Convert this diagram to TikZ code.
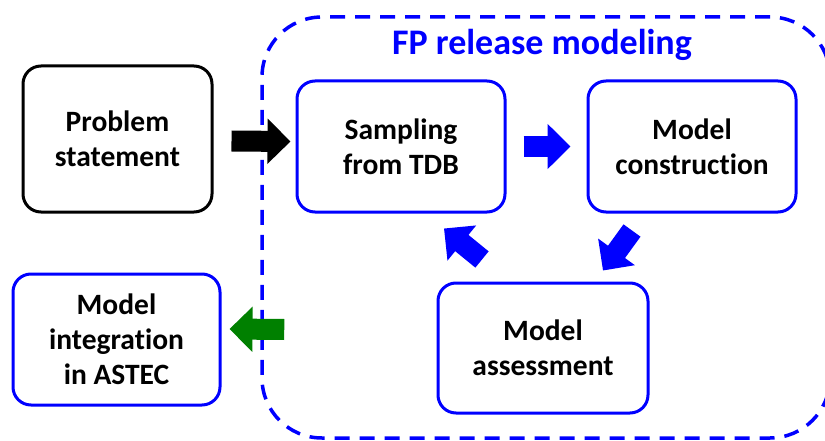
\documentclass[tikz,border=0pt]{standalone}
\usepackage{fontspec}
\setmainfont{Carlito}[Ligatures={TeX,NoCommon}]
\usetikzlibrary{arrows.meta}
\definecolor{fpblue}{RGB}{0,0,255}
\definecolor{fpgreen}{RGB}{0,128,0}
\begin{document}
\begin{tikzpicture}[x=1pt,y=-1pt,
  box/.style={draw=fpblue, line width=3pt, rounded corners=18pt, fill=white,
    minimum width=#1, align=center, inner sep=0pt,
    font=\bfseries\fontsize{29.5}{35}\selectfont},
  box/.default=208pt,
  barrow/.style={line width=21pt, -{Triangle[length=23pt,width=44pt]}},
]
\useasboundingbox (0,0) rectangle (825,441);
\clip (0,0) rectangle (825,441);
% container
\node[draw=fpblue, line width=3.5pt, dash pattern=on 15pt off 10pt,
  rounded corners=60pt, minimum width=568pt, minimum height=421pt, inner sep=0pt]
  (fp) at (546,227.5) {};
\node[anchor=base, text=fpblue, font=\bfseries\fontsize{36}{40}\selectfont]
  (title) at (542,55) {FP release modeling};
% boxes
\node[box=189pt, draw=black, minimum height=146pt] (ps) at (117.5,139) {Problem\\statement};
\node[box=208pt, minimum height=131pt] (samp) at (401,146.5) {Sampling\\from TDB};
\node[box=208pt, minimum height=131pt] (cons) at (692,146.5) {Model\\construction};
\node[box=210pt, minimum height=130pt] (assess) at (543,348) {Model\\assessment};
\node[box=207pt, minimum height=131pt] (integ) at (116.5,339.5) {Model\\integration\\in ASTEC};
% arrows
\draw[barrow, black] ([shift={(18,2)}]ps.east) -- ([shift={(-5,-5)}]samp.west);
\draw[barrow, fpblue] ([xshift=17pt]samp.east) -- ([xshift=-16pt]cons.west);
\draw[barrow, fpblue] ([shift={(-60,17)}]cons.south) -- ([shift={(60,-11)}]assess.north);
\draw[barrow, fpblue] ([shift={(-61,-22)}]assess.north) -- ([shift={(43,15)}]samp.south);
\draw[barrow, fpgreen] ([shift={(24,102)}]fp.west) -- ([shift={(8,-10.5)}]integ.east);
\end{tikzpicture}
\end{document}
